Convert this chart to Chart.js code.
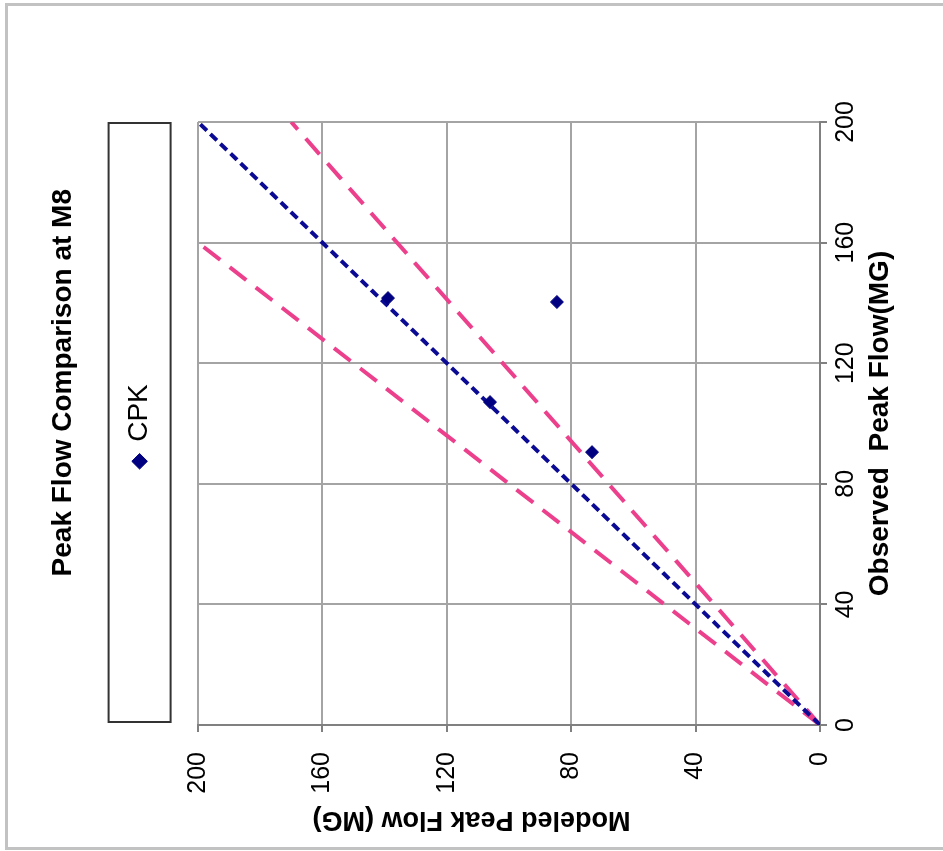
<!DOCTYPE html>
<html lang="en">
<head>
<meta charset="UTF-8">
<title>Peak Flow Comparison at M8</title>
<script src="https://cdn.jsdelivr.net/npm/chart.js"></script>
<style>
  html, body { margin: 0; padding: 0; background: #fff; overflow: hidden; }
  body { width: 943px; height: 851px; position: relative; }
  #frame { position: absolute; left: 5px; top: 3px; width: 960px; height: 847px; box-sizing: border-box;
           border: 3px solid #c2c2c2; border-right: none; }
  /* the chart is laid out upright, then turned a quarter turn counter-clockwise */
  #turn { position: absolute; left: 46px; top: -46px; width: 851px; height: 943px; transform: rotate(-90deg); }
</style>
</head>
<body>
<div id="frame"></div>
<div id="turn"><canvas id="peakChart" width="851" height="943"></canvas></div>

<script>
// observed vs modeled peak flow (MG)
const observedFlow = [141.6, 140.3, 107.1, 90.5];
const modeledFlow = [138.9, 84.6, 106.1, 73.3];

// reference lines: 1:1, +25%, -15%
const equalLineX = [0, 200];
const equalLineY = [0, 200];
const upperLineX = [0, 160];
const upperLineY = [0, 200];
const lowerLineX = [0, 200];
const lowerLineY = [0, 170];

const tickValues = [0, 40, 80, 120, 160, 200];

function pairs(xs, ys) {
    return xs.map((x, i) => ({ x: x, y: ys[i] }));
}

Chart.defaults.font.family = '"Liberation Sans", Arial, sans-serif';
Chart.defaults.color = '#000';

const gridColor = '#a4a4a4';
const axisColor = '#808080';
const pink = '#ec3f8c';

// box around the legend, as wide as the plot
const legendFrame = {
    id: 'legendFrame',
    afterDraw(chart) {
        const hit = chart.legend.legendHitBoxes[0];
        if (!hit) return;
        const area = chart.chartArea;
        const mid = hit.top + hit.height / 2;
        const ctx = chart.ctx;
        ctx.save();
        ctx.strokeStyle = '#333';
        ctx.lineWidth = 2;
        ctx.strokeRect(area.left + 3, mid - 31, area.right - area.left - 4, 62);
        ctx.restore();
    }
};

function setTicks(axis) {
    axis.ticks = tickValues.map(v => ({ value: v }));
}

new Chart(document.getElementById('peakChart'), {
    type: 'scatter',
    data: {
        datasets: [{
            label: 'CPK',
            data: pairs(observedFlow, modeledFlow),
            pointStyle: 'rectRot',
            pointRadius: 6.5,
            backgroundColor: '#000080',
            borderColor: '#000080',
            borderWidth: 1
        }, {
            label: '1:1',
            data: pairs(equalLineX, equalLineY),
            showLine: true,
            borderColor: '#0a0a94',
            borderWidth: 4,
            borderDash: [9, 5],
            pointRadius: 0
        }, {
            label: '+25%',
            data: pairs(upperLineX, upperLineY),
            showLine: true,
            borderColor: pink,
            borderWidth: 4,
            borderDash: [21, 12],
            pointRadius: 0
        }, {
            label: '-15%',
            data: pairs(lowerLineX, lowerLineY),
            showLine: true,
            borderColor: pink,
            borderWidth: 4,
            borderDash: [21, 12],
            pointRadius: 0
        }]
    },
    options: {
        responsive: false,
        animation: false,
        plugins: {
            title: {
                display: true,
                // leading spaces push the title a little off centre, like the original
                text: '           Peak Flow Comparison at M8',
                font: { size: 28, weight: 'bold' },
                padding: { top: 46, bottom: 10 }
            },
            legend: {
                position: 'top',
                labels: {
                    usePointStyle: true,
                    pointStyle: 'rectRot',
                    boxWidth: 11,
                    boxHeight: 11,
                    padding: 36,
                    font: { size: 28 },
                    filter: item => item.datasetIndex === 0
                }
            },
            // empty spacer between legend and plot
            subtitle: {
                display: true,
                text: '',
                weight: 500,
                font: { size: 10, lineHeight: 1 },
                padding: { top: 0, bottom: 24.4 }
            },
            tooltip: { enabled: false }
        },
        scales: {
            x: {
                type: 'linear',
                position: 'bottom',
                min: 0,
                max: 200,
                afterBuildTicks: setTicks,
                afterFit(scale) {
                    scale.height = 123;
                    scale.paddingRight = 122;
                },
                ticks: { font: { size: 25 }, padding: 4, maxRotation: 0 },
                grid: { color: gridColor, lineWidth: 2, tickLength: 7, tickColor: axisColor },
                border: { color: axisColor, width: 2 },
                title: {
                    display: true,
                    text: 'Observed  Peak Flow(MG)',
                    font: { size: 28, weight: 'bold' },
                    padding: { top: 0, bottom: 46 }
                }
            },
            y: {
                type: 'linear',
                position: 'left',
                min: 0,
                max: 200,
                afterBuildTicks: setTicks,
                afterFit(scale) {
                    scale.width = 126;
                },
                ticks: { font: { size: 25 }, padding: 20 },
                grid: { color: gridColor, lineWidth: 2, tickLength: 7, tickColor: axisColor },
                border: { color: axisColor, width: 2 },
                title: {
                    display: true,
                    text: '          Modeled Peak Flow (MG)',
                    font: { size: 27, weight: 'bold' },
                    padding: { top: 15, bottom: 0 }
                }
            }
        }
    },
    plugins: [legendFrame]
});
</script>
</body>
</html>
